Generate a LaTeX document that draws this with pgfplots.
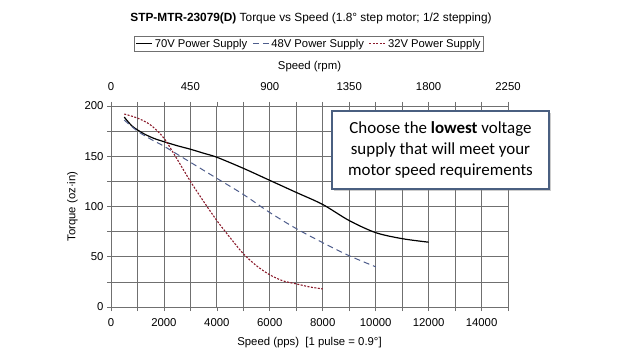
\documentclass[border=0pt]{standalone}
\usepackage{pgfplots}
\pgfplotsset{compat=1.18}
\usepackage{fontspec}
\setmainfont{Liberation Sans}
\newfontfamily\callfont{Carlito}
\usetikzlibrary{shadows}
\definecolor{gridc}{HTML}{707070}
\definecolor{bluec}{HTML}{4E5D8C}
\definecolor{redc}{HTML}{8B1A2B}
\definecolor{boxc}{HTML}{4A5F80}
\begin{document}
\begin{tikzpicture}[x=1bp,y=1bp]
\useasboundingbox (0,0) rectangle (640,360);
\fill[white] (0,0) rectangle (640,360);
\node[font=\fontsize{11.9}{14}\selectfont] at (311,342) {\textbf{STP-MTR-23079(D)} Torque vs Speed (1.8° step motor; 1/2 stepping)};
\begin{axis}[at={(111bp,53bp)}, anchor=south west, scale only axis, width=397bp, height=201bp,
 xmin=0, xmax=15000, ymin=0, ymax=200,
 xtick={0,2000,...,14000}, minor xtick={1000,3000,...,15000},
 ytick={0,50,...,200}, minor ytick={25,75,...,175},
 grid=both, major grid style={gridc, line width=0.75pt}, minor grid style={gridc, line width=0.75pt},
 axis line style={gridc, line width=0.8pt},
 tick style={gridc, line width=0.7pt}, major tick length=4bp, minor tick length=4bp, tick align=outside,
 xtick pos=left, ytick pos=left,
 tick label style={font=\fontsize{11.4}{13}\selectfont},
 label style={font=\fontsize{11.4}{13}\selectfont},
 xticklabel shift=4bp,
 xlabel style={yshift=-4bp},
 scaled x ticks=false, /pgf/number format/1000 sep={}, /pgf/number format/assume math mode=true,
 xlabel={Speed (pps)\ \ [1 pulse = 0.9°]}, ylabel={Torque (oz·in)},
 legend columns=3,
 legend style={at={(0.499,1.31)}, anchor=center, draw=gridc, font=\fontsize{11.3}{13}\selectfont, inner sep=1pt,
   /tikz/every even column/.append style={column sep=3pt}},
 legend image code/.code={\draw[#1] (0bp,0bp) -- (16bp,0bp);},
]
\addplot[black, line width=1.2pt, smooth] coordinates {
(500,189) (800,180) (1200,173) (1600,168) (2000,164.5) (2500,160.5) (3000,157) (3500,153) (4000,149)
(5000,138) (6000,126) (7000,114) (8000,102) (9000,86) (10000,74) (11000,68) (12000,64.5)};
\addlegendentry{70V Power Supply}
\addplot[bluec, line width=1pt, dash pattern=on 6pt off 4pt, smooth] coordinates {
(500,186) (1000,175) (1500,167) (2000,160) (3000,144) (4000,128) (5000,112) (6000,94)
(7000,78) (8000,64) (9000,51) (10000,40)};
\addlegendentry{48V Power Supply}
\addplot[redc, line width=1.1pt, dash pattern=on 2pt off 1.5pt, smooth] coordinates {
(500,192) (1000,188) (1500,181) (2000,168) (2500,147) (3000,125) (3500,105) (4000,86)
(4500,69) (5000,53) (5500,41) (6000,32) (6500,26) (7000,23) (7500,20) (8000,18)};
\addlegendentry{32V Power Supply}
\end{axis}
\begin{axis}[at={(111bp,53bp)}, anchor=south west, scale only axis, width=397bp, height=201bp,
 xmin=0, xmax=15000, ymin=0, ymax=200,
 axis x line*=top, axis y line=none,
 xtick={0,3000,...,15000}, xticklabels={0,450,900,1350,1800,2250},
 minor xtick={1000,2000,4000,5000,7000,8000,10000,11000,13000,14000},
 scaled x ticks=false,
 axis line style={gridc, line width=0.8pt},
 tick style={gridc, line width=0.7pt}, major tick length=4bp, minor tick length=4bp, tick align=outside,
 tick label style={font=\fontsize{11.4}{13}\selectfont},
 label style={font=\fontsize{11.4}{13}\selectfont},
 xticklabel shift=8bp,
 xlabel style={yshift=4bp},
 /pgf/number format/assume math mode=true,
 xlabel={Speed (rpm)},
]
\end{axis}
\node[draw=boxc, line width=1.6bp, fill=white, minimum width=217bp, minimum height=78bp, align=center,
  font=\callfont\fontsize{17}{21.5}\selectfont, drop shadow={shadow xshift=2bp, shadow yshift=-2bp, opacity=0.4}]
  at (440.5,210) {Choose the \textbf{lowest} voltage\\supply that will meet your\\motor speed requirements};
\end{tikzpicture}
\end{document}
